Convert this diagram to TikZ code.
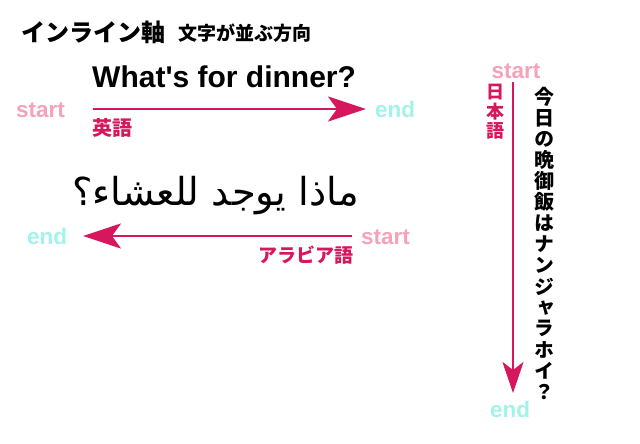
\documentclass[tikz,border=0pt]{standalone}
\usepackage{fontspec}
\setmainfont{Liberation Sans}
\newfontfamily\lat{Liberation Sans}
\newfontfamily\jp{Noto Sans CJK JP}
\newfontfamily\jpk{Noto Sans CJK JP Black}
\newfontfamily\jpv{Noto Sans CJK JP Black}[RawFeature=+vert]
\newfontfamily\arab[Script=Arabic]{DejaVu Sans}
\TeXXeTstate=1
\usetikzlibrary{arrows.meta}
\definecolor{crim}{HTML}{D6175E}
\definecolor{startpink}{HTML}{F5A3B9}
\definecolor{endcyan}{HTML}{A3F3EB}
\tikzset{
  lbl/.style={inner sep=0pt, font=\lat\bfseries\fontsize{22.5}{22.5}\selectfont},
  startlbl/.style={lbl, text=startpink},
  endlbl/.style={lbl, text=endcyan},
  axis/.style={draw=crim, line width=2.7pt, -{Stealth[length=38pt,width=25pt,inset=9pt]}},
  vaxis/.style={draw=crim, line width=2.7pt, -{Stealth[length=31pt,width=21pt,inset=8pt]}},
  langlbl/.style={inner sep=0pt, text=crim, font=\jpk\fontsize{19}{19}\selectfont},
  jptext/.style={inner sep=0pt, font=\jpv\fontsize{20}{20}\selectfont},
}
\begin{document}
\begin{tikzpicture}[x=1pt,y=-1pt]
\fill[white] (0,0) rectangle (640,444);
\useasboundingbox (0,0) rectangle (640,444);
% title
\node[anchor=west, inner sep=0pt, font=\jpk\fontsize{24}{24}\selectfont] (title) at (21,32) {インライン軸};
\node[anchor=west, inner sep=0pt, font=\jp\bfseries\fontsize{19}{19}\selectfont] (sub) at (178,33) {文字が並ぶ方向};
% English
\node[anchor=base west, inner sep=0pt, font=\lat\bfseries\fontsize{30}{30}\selectfont] (en) at (92,88) {What's for dinner?};
\coordinate (a1s) at (93,109);
\coordinate (a1e) at (366,109);
\draw[axis] (a1s) -- (a1e);
\node[startlbl, anchor=base west] (s1) at (16,117.5) {start};
\node[endlbl, anchor=base west] (e1) at (375,117.5) {end};
\node[langlbl, anchor=west, font=\jpk\fontsize{20}{20}\selectfont] (l1) at (92,128) {英語};
% Arabic
\node[anchor=base, inner sep=0pt, font=\arab\fontsize{38.5}{38.5}\selectfont] (ar) at (215.5,205) {\beginR ماذا يوجد للعشاء؟\endR};
\coordinate (a2s) at (352,236);
\coordinate (a2e) at (83,236);
\draw[axis] (a2s) -- (a2e);
\node[endlbl, anchor=base west] (e2) at (27,244) {end};
\node[startlbl, anchor=base west] (s2) at (361,244) {start};
\node[langlbl, anchor=east] (l2) at (354,255) {アラビア語};
% Japanese vertical
\coordinate (a3s) at (513,82);
\coordinate (a3e) at (513,393);
\draw[vaxis] (a3s) -- (a3e);
\node[startlbl, anchor=base] (s3) at (516,78) {start};
\node[endlbl, anchor=base] (e3) at (510,417) {end};
\foreach \c [count=\i from 0] in {日,本,語}
  \node[langlbl, font=\jpk\fontsize{18}{18}\selectfont] (l3\i) at (495,{92+19.5*\i}) {\c};
\foreach \c [count=\i from 0] in {今,日,の,晩,御,飯,は,ナ,ン,ジ,ャ,ラ,ホ,イ,？}
  \node[jptext] (v\i) at (544,{97+21.07*\i}) {\c};
\end{tikzpicture}
\end{document}
